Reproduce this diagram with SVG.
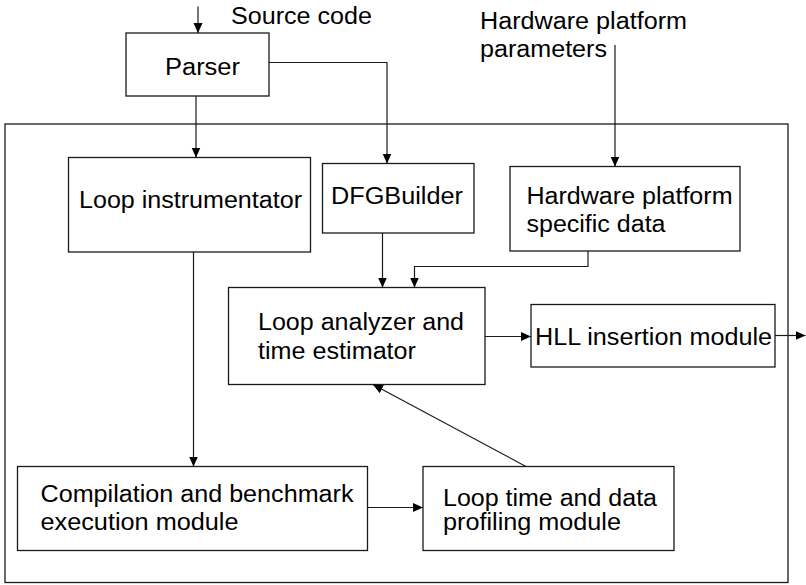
<svg xmlns="http://www.w3.org/2000/svg" width="806" height="585" viewBox="0 0 806 585">
<style>
  .box { fill: #ffffff; stroke: #1a1a1a; stroke-width: 1.3; }
  .outer { fill: none; stroke: #1a1a1a; stroke-width: 1.3; }
  .conn { fill: none; stroke: #1a1a1a; stroke-width: 1.2; marker-end: url(#arrow); }
  .lbl { font-family: "Liberation Sans", Arial, sans-serif; font-size: 23px; fill: #000000; }
</style>
<defs>
  <marker id="arrow" markerUnits="userSpaceOnUse" markerWidth="10" markerHeight="10" refX="10" refY="4.5" orient="auto">
    <path d="M0,0 L10,4.5 L0,9 z" fill="#000000"/>
  </marker>
</defs>
<rect width="806" height="585" fill="#ffffff"/>

<g id="system-boundary">
  <rect class="outer" x="5" y="124" width="783" height="458.5"/>
</g>

<g id="source-code-label">
  <text class="lbl" x="231" y="23.5" textLength="141" lengthAdjust="spacingAndGlyphs">Source code</text>
</g>

<g id="hw-params-label">
  <text class="lbl" x="480" y="28.5" textLength="207" lengthAdjust="spacingAndGlyphs">Hardware platform</text>
  <text class="lbl" x="480" y="56.5" textLength="127" lengthAdjust="spacingAndGlyphs">parameters</text>
</g>

<g id="parser">
  <rect class="box" x="126" y="33" width="143" height="63"/>
  <text class="lbl" x="165" y="75" textLength="75" lengthAdjust="spacingAndGlyphs">Parser</text>
</g>

<g id="loop-instrumentator">
  <rect class="box" x="68.5" y="157.5" width="242" height="94.5"/>
  <text class="lbl" x="79" y="207.5" textLength="223" lengthAdjust="spacingAndGlyphs">Loop instrumentator</text>
</g>

<g id="dfgbuilder">
  <rect class="box" x="322.5" y="163.5" width="151.5" height="69.5"/>
  <text class="lbl" x="331" y="203.5" textLength="132" lengthAdjust="spacingAndGlyphs">DFGBuilder</text>
</g>

<g id="hw-specific-data">
  <rect class="box" x="510" y="166.5" width="230" height="84.5"/>
  <text class="lbl" x="526.5" y="204" textLength="206" lengthAdjust="spacingAndGlyphs">Hardware platform</text>
  <text class="lbl" x="526.5" y="231.5" textLength="139" lengthAdjust="spacingAndGlyphs">specific data</text>
</g>

<g id="loop-analyzer">
  <rect class="box" x="228.5" y="287.5" width="256.5" height="97"/>
  <text class="lbl" x="258" y="330" textLength="206" lengthAdjust="spacingAndGlyphs">Loop analyzer and</text>
  <text class="lbl" x="258" y="358.5" textLength="158" lengthAdjust="spacingAndGlyphs">time estimator</text>
</g>

<g id="hll-insertion">
  <rect class="box" x="531" y="304.5" width="244" height="62.5"/>
  <text class="lbl" x="535" y="344.5" textLength="237" lengthAdjust="spacingAndGlyphs">HLL insertion module</text>
</g>

<g id="compilation">
  <rect class="box" x="17.5" y="466.5" width="350" height="84"/>
  <text class="lbl" x="40.5" y="502" textLength="313" lengthAdjust="spacingAndGlyphs">Compilation and benchmark</text>
  <text class="lbl" x="40.5" y="529.5" textLength="198" lengthAdjust="spacingAndGlyphs">execution module</text>
</g>

<g id="loop-profiling">
  <rect class="box" x="423" y="466.5" width="251" height="84"/>
  <text class="lbl" x="443" y="506" textLength="214" lengthAdjust="spacingAndGlyphs">Loop time and data</text>
  <text class="lbl" x="443" y="530" textLength="178" lengthAdjust="spacingAndGlyphs">profiling module</text>
</g>

<g id="connectors">
  <path class="conn" d="M198,6.5 L198,33"/>
  <path class="conn" d="M196,96 L196,157.5"/>
  <path class="conn" d="M269,62.5 L387,62.5 L387,163.5"/>
  <path class="conn" d="M615,45 L615,166.5"/>
  <path class="conn" d="M382.5,233 L382.5,287.5"/>
  <path class="conn" d="M588,251 L588,266.5 L414.5,266.5 L414.5,287.5"/>
  <path class="conn" d="M193.5,252 L193.5,466.5"/>
  <path class="conn" d="M485,336.5 L531,336.5"/>
  <path class="conn" d="M775,335.5 L805.5,335.5"/>
  <path class="conn" d="M367.5,507.5 L423,507.5"/>
  <path class="conn" d="M526,466.5 L373,384.5"/>
</g>
</svg>
